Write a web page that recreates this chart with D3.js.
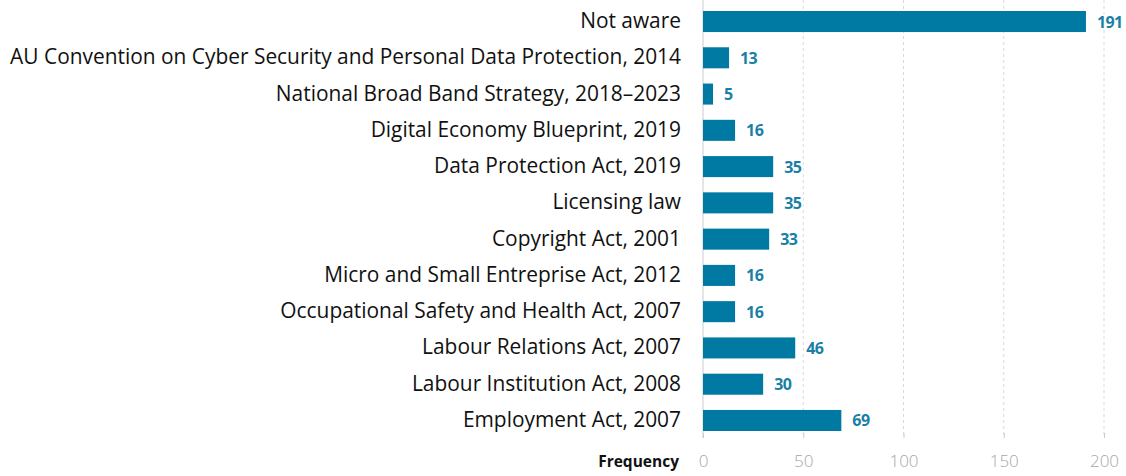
<!DOCTYPE html>
<html><head><meta charset="utf-8">
<script src="https://cdn.jsdelivr.net/npm/d3@7"></script>
<style>
body{margin:0;background:#fff;}
text{font-family:"Open Sans",Lato,sans-serif;}
</style></head>
<body><svg id="c" width="1126" height="476"></svg>
<script>
const categories = ["Not aware","AU Convention on Cyber Security and Personal Data Protection, 2014","National Broad Band Strategy, 2018–2023","Digital Economy Blueprint, 2019","Data Protection Act, 2019","Licensing law","Copyright Act, 2001","Micro and Small Entreprise Act, 2012","Occupational Safety and Health Act, 2007","Labour Relations Act, 2007","Labour Institution Act, 2008","Employment Act, 2007"];
const values = [191,13,5,16,35,35,33,16,16,46,30,69];
const ticks = [0,50,100,150,200];
const axisTitle = "Frequency";

const svg = d3.select("#c");
const x = d3.scaleLinear().domain([0,200]).range([703,1104]);
const y = d3.scaleBand().domain(categories).range([3.4,438.6]).paddingInner(0.42).paddingOuter(0.21);

// gridlines
svg.append("g").selectAll("line").data(ticks.slice(1)).join("line")
  .attr("x1",d=>x(d)).attr("x2",d=>x(d)).attr("y1",0).attr("y2",438)
  .attr("stroke","#d9d9d9").attr("stroke-width",1).attr("stroke-dasharray","3,3");

// axis
const ax = svg.append("g").attr("transform","translate(0,433)")
  .call(d3.axisBottom(x).tickValues(ticks).tickSize(5).tickPadding(17));
ax.select(".domain").remove();
ax.selectAll(".tick line").attr("stroke","#cccccc");
ax.selectAll(".tick text").attr("fill","#a6a6a6").attr("font-size",17).attr("font-weight",300)
  .attr("font-family","'Open Sans',sans-serif");

svg.append("line").attr("x1",x(0)).attr("x2",x(0)).attr("y1",0).attr("y2",438).attr("stroke","#cccccc");

svg.append("text").attr("x",679).attr("y",467).attr("text-anchor","end")
  .attr("font-size",15.5).attr("font-weight",700).attr("fill","#111").text(axisTitle);

// bars
svg.append("g").selectAll("rect").data(values).join("rect")
  .attr("x",x(0)).attr("y",(d,i)=>y(categories[i]))
  .attr("width",d=>x(d)-x(0)).attr("height",y.bandwidth())
  .attr("fill","#0079a3");

// value labels
svg.append("g").selectAll("text").data(values).join("text")
  .attr("x",d=>x(d)+11).attr("y",(d,i)=>y(categories[i])+y.bandwidth()/2+6)
  .attr("font-size",16).attr("font-weight",700).attr("fill","#1a7fa6")
  .attr("letter-spacing",-0.6)
  .attr("stroke","#fff").attr("stroke-width",4).attr("paint-order","stroke")
  .text(d=>d);

// category labels
svg.append("g").selectAll("text").data(categories).join("text")
  .attr("x",681).attr("y",d=>y(d)+y.bandwidth()/2+6.5)
  .attr("text-anchor","end").attr("font-size",20.9).attr("fill","#111")
  .text(d=>d);
</script></body></html>
